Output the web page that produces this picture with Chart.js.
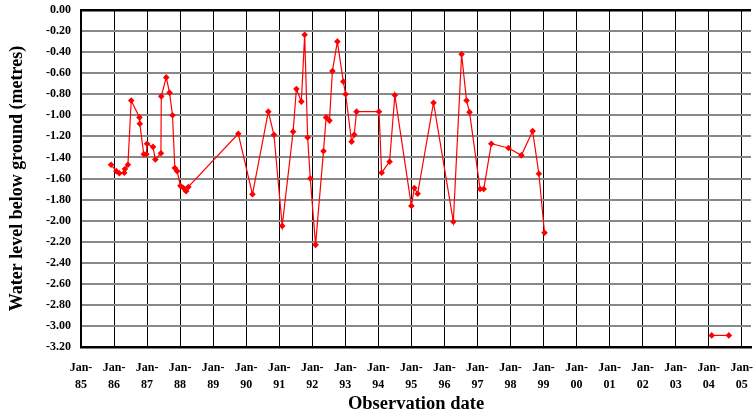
<!DOCTYPE html>
<html lang="en">
<head>
  <meta charset="UTF-8" />
  <title>Water level below ground</title>
  <script src="https://cdn.jsdelivr.net/npm/chart.js"></script>
  <style>
    body {
      margin: 0;
      background: #fff;
    }
    #wl {
      display: block;
    }
  </style>
</head>
<body>
  <canvas id="wl" width="755" height="418"></canvas>

  <script>
    // observation dates as decimal years
    const obsYear = [
      1985.91, 1986.07, 1986.16, 1986.31, 1986.33, 1986.42, 1986.52, 1986.77, 1986.78, 1986.90,
      1986.98, 1987.00, 1987.18, 1987.25, 1987.42, 1987.43, 1987.58, 1987.68, 1987.77, 1987.84,
      1987.91, 1988.01, 1988.10, 1988.18, 1988.25, 1989.76, 1990.19, 1990.67, 1990.84, 1991.09,
      1991.42, 1991.52, 1991.67, 1991.77, 1991.86, 1991.94, 1992.10, 1992.34, 1992.42, 1992.52,
      1992.61, 1992.76, 1992.94, 1993.01, 1993.19, 1993.27, 1993.34, 1994.02, 1994.10, 1994.34,
      1994.50, 1995.00, 1995.09, 1995.19, 1995.67, 1996.27, 1996.52, 1996.67, 1996.76, 1997.08,
      1997.19, 1997.42, 1997.94, 1998.33, 1998.67, 1998.86, 1999.03, 2004.09, 2004.61
    ];
    // water level below ground (m)
    const level = [
      -1.47, -1.53, -1.55, -1.545, -1.51, -1.47, -0.86, -1.02, -1.08, -1.37,
      -1.37, -1.27, -1.30, -1.42, -1.36, -0.82, -0.64, -0.785, -1.00, -1.50,
      -1.53, -1.67, -1.69, -1.72, -1.68, -1.175, -1.75, -0.965, -1.185, -2.05,
      -1.155, -0.75, -0.87, -0.235, -1.21, -1.60, -2.23, -1.34, -1.02, -1.05,
      -0.58, -0.30, -0.68, -0.80, -1.25, -1.185, -0.965, -0.965, -1.545, -1.44,
      -0.81, -1.86, -1.69, -1.745, -0.88, -2.01, -0.42, -0.86, -0.97, -1.70,
      -1.70, -1.27, -1.31, -1.38, -1.15, -1.555, -2.115, -3.09, -3.09
    ];
    const yearTicks = [1985, 1986, 1987, 1988, 1989, 1990, 1991, 1992, 1993, 1994, 1995,
      1996, 1997, 1998, 1999, 2000, 2001, 2002, 2003, 2004, 2005];

    const points = obsYear.map((x, i) => ({ x: x, y: level[i] }));
    const serif = 'Liberation Serif, Times New Roman, serif';

    new Chart(document.getElementById('wl'), {
      type: 'line',
      data: {
        datasets: [{
          data: points,
          borderColor: '#ff0000',
          borderWidth: 1.2,
          backgroundColor: '#ff0000',
          pointStyle: 'rectRot',
          pointRadius: 3.3,
          pointBorderWidth: 0,
          tension: 0,
          // no line across the 1999-2004 gap
          segment: {
            borderColor: c => (c.p1.parsed.x - c.p0.parsed.x > 3 ? 'rgba(0,0,0,0)' : undefined)
          }
        }]
      },
      options: {
        responsive: false,
        animation: false,
        layout: { padding: { left: 0, top: 10, right: 0, bottom: 0 } },
        plugins: {
          legend: { display: false },
          tooltip: { enabled: false }
        },
        scales: {
          x: {
            type: 'linear',
            min: 1985,
            max: 2005.28,
            afterFit: s => { s.height = 71; s.paddingRight = 0; s.paddingLeft = 0; },
            afterBuildTicks: s => { s.ticks = yearTicks.map(v => ({ value: v })); },
            ticks: {
              autoSkip: false,
              maxRotation: 0,
              includeBounds: false,
              padding: 13,
              color: '#000',
              font: { family: serif, size: 12, weight: 'bold', lineHeight: 1.4 },
              callback: v => ['Jan-', String(v).slice(2)]
            },
            grid: { color: '#000', lineWidth: 1, drawTicks: false },
            border: { color: '#000', width: 2.5 },
            title: {
              display: true,
              text: 'Observation date',
              color: '#000',
              font: { family: serif, size: 18.5, weight: 'bold' },
              padding: { top: 0, bottom: 3 }
            }
          },
          y: {
            min: -3.2,
            max: 0,
            afterFit: s => { s.width = 81; s.paddingTop = 0; s.paddingBottom = 0; },
            ticks: {
              stepSize: 0.2,
              padding: 10,
              color: '#000',
              font: { family: serif, size: 12, weight: 'bold' },
              callback: v => Number(v).toFixed(2)
            },
            grid: {
              drawTicks: false,
              color: c => (Math.abs(c.tick.value) < 1e-6 ? '#000' : '#888'),
              lineWidth: c => (Math.abs(c.tick.value) < 1e-6 ? 2.5 : 2)
            },
            border: { color: '#000', width: 2 },
            title: {
              display: true,
              text: 'Water level below ground (metres)',
              color: '#000',
              font: { family: serif, size: 18, weight: 'bold' },
              padding: { top: 7, bottom: 0 }
            }
          }
        }
      }
    });
  </script>
</body>
</html>
